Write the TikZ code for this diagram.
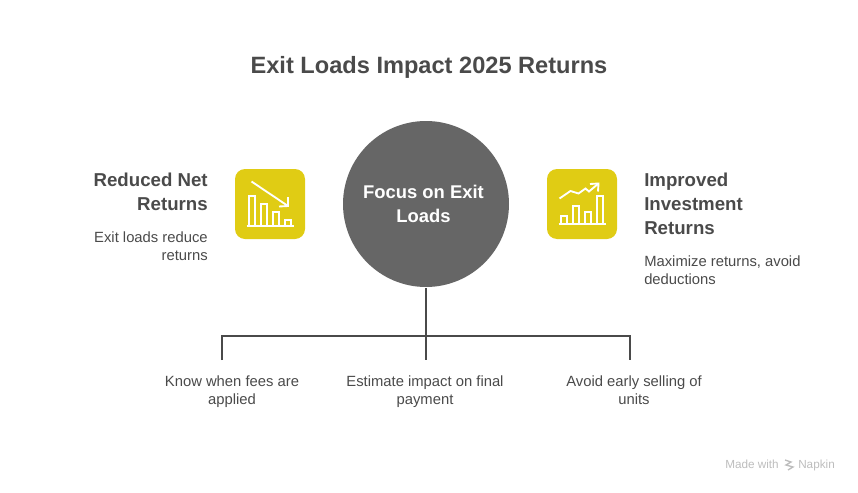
\documentclass[tikz,border=0pt]{standalone}
\usepackage{fontspec}
\setmainfont{Liberation Sans}
\usepackage{xcolor}
\usetikzlibrary{positioning,calc,arrows.meta}
\definecolor{textgrey}{HTML}{4A4A4A}
\definecolor{circlegrey}{HTML}{666666}
\definecolor{iconyellow}{HTML}{E0CC14}
\definecolor{markgrey}{HTML}{BDBDBD}
\begin{document}
\begin{tikzpicture}[x=0.75pt, y=-0.75pt,
		heading/.style={text=textgrey, font=\fontsize{14}{18}\selectfont\bfseries, inner sep=0pt},
		body/.style={text=textgrey, font=\fontsize{11.1}{13.5}\selectfont, inner sep=0pt},
		iconbox/.style={fill=iconyellow, rounded corners=7.5pt, minimum size=52.5pt, inner sep=0pt},
		icon/.style={draw=white, line width=1.4pt},
		link/.style={draw=textgrey, line width=1.5pt},
		brand/.style={text=markgrey, font=\fontsize{8.8}{10}\selectfont, inner sep=0pt}]
			\useasboundingbox (0,0) rectangle (858,493);
			\node [text=textgrey, font=\fontsize{17.7}{22}\selectfont\bfseries, inner sep=0pt] (title) at (429,67) {Exit Loads Impact 2025 Returns};
			\node [circle, fill=circlegrey, minimum size=124.5pt, inner sep=0pt, text=white, align=center, font=\fontsize{13.8}{18}\selectfont\bfseries] (focus) at (426,204) {Focus on Exit\hspace*{3.75pt}\\Loads\hspace*{3.75pt}};
			\node [iconbox] (lossbox) at (270,204) {};
			\node [iconbox] (gainbox) at (582,204) {};
			\node [heading, align=right, anchor=north east] (losshead) at (208,173) {Reduced Net\\Returns};
			\node [body, align=right, anchor=north east] (losstext) at (208,231.5) {Exit loads reduce\\returns};
			\node [heading, align=left, anchor=north west] (gainhead) at (644,173) {Improved\\Investment\\Returns};
			\node [body, align=left, anchor=north west] (gaintext) at (644,255.5) {Maximize returns, avoid\\deductions};
			\node [body, align=center, anchor=north, yshift=-11.6pt] (whenfees) at (232,360) {Know when fees are\\applied};
			\node [body, align=center, anchor=north, yshift=-11.6pt] (estimate) at (425,360) {Estimate impact on final\\payment};
			\node [body, align=center, anchor=north, yshift=-11.6pt] (avoid) at (634,360) {Avoid early selling of\\units};
			\coordinate (trunk) at (426,336);
			\coordinate (leftend) at (222,336);
			\coordinate (rightend) at (630,336);
			\coordinate (lefttip) at (222,360);
			\coordinate (midtip) at (426,360);
			\coordinate (righttip) at (630,360);
			\draw [link] ($(focus.south)+(0,1)$) -- (midtip);
			\draw [link] (lefttip) -- (leftend) -- (rightend) -- (righttip);
			\draw [icon] (246.5,226) -- (293.5,226);
			\draw [icon] (249,226) rectangle (255,196);
			\draw [icon] (261,226) rectangle (267,204);
			\draw [icon] (273,226) rectangle (279,212);
			\draw [icon] (285,226) rectangle (291,220);
			\draw [icon] (251.5,181.5) -- (288,206);
			\draw [icon] (288,197) -- (288,206) -- (279,206.5);
			\draw [icon] (558.5,224) -- (605.5,224);
			\draw [icon] (561,224) rectangle (567,216);
			\draw [icon] (573,224) rectangle (579,206);
			\draw [icon] (585,224) rectangle (591,212);
			\draw [icon] (597,224) rectangle (603,196);
			\draw [icon] (559.5,198.5) -- (570.5,191) -- (578.5,193.5) -- (585.5,188.5) -- (589,191.5) -- (598.5,183.5);
			\draw [icon] (590,184) -- (598.5,183.5) -- (598,191.5);
			\node [brand, anchor=base west] (madewith) at (725,468) {Made with};
			\node [brand, anchor=base west] (napkin) at (798,468) {Napkin};
			\draw [draw=markgrey, line width=1pt] (785,460) -- (791,462) -- (786,465) -- (793,467) -- (788,470);
		\end{tikzpicture}
\end{document}
